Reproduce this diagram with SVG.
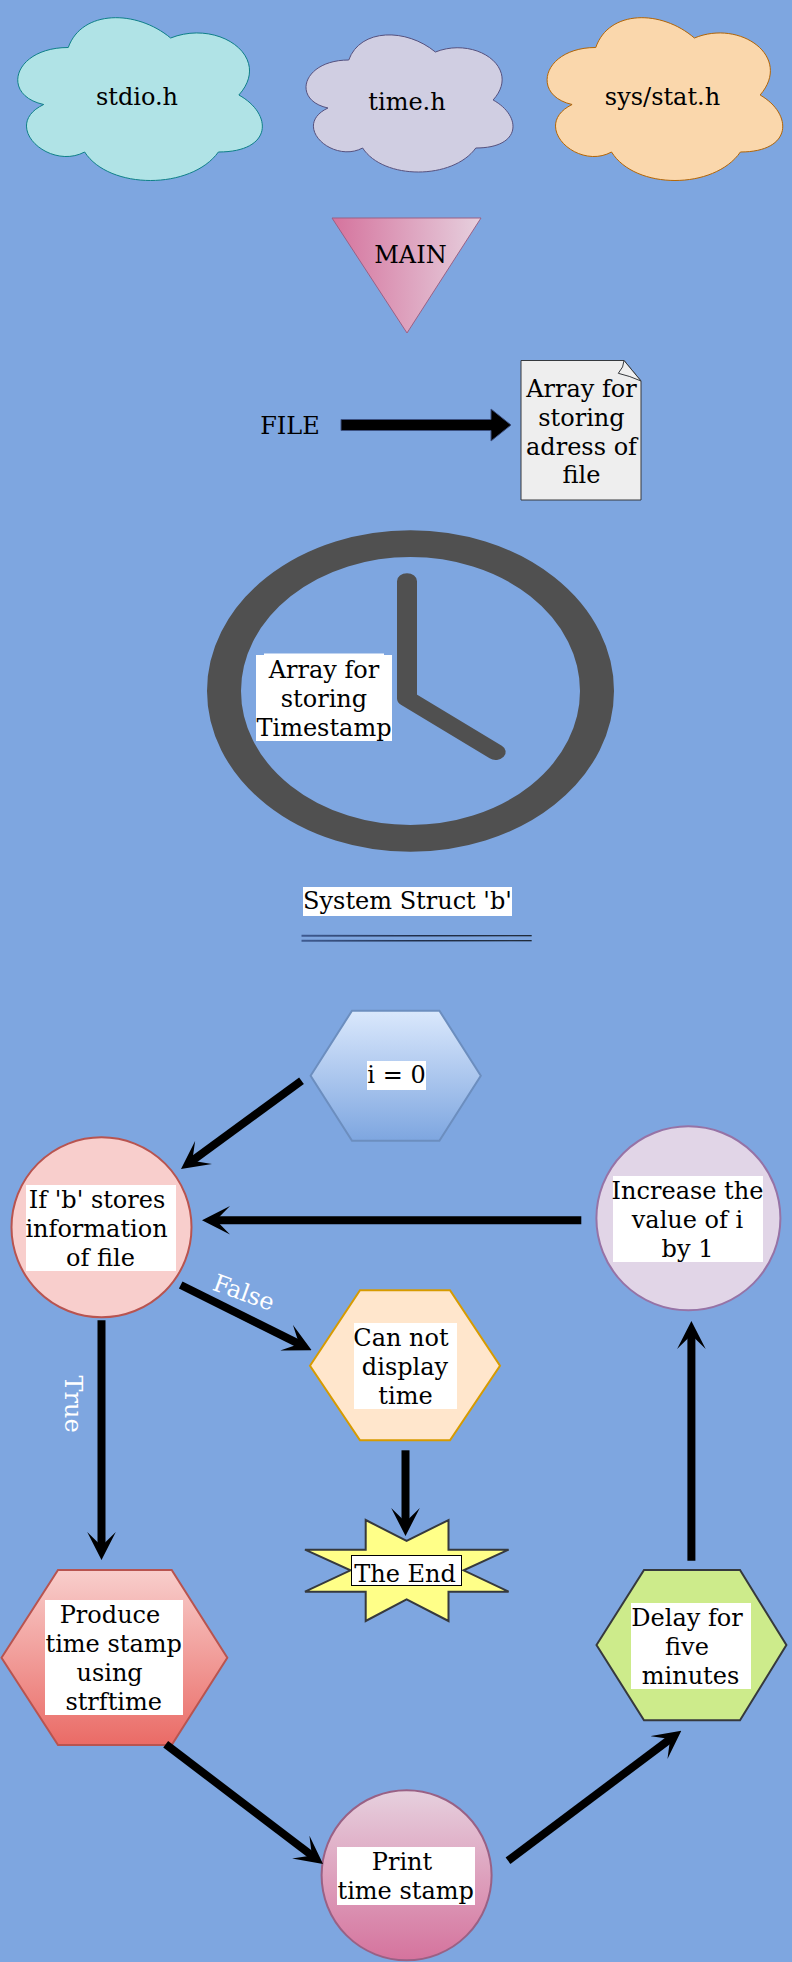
<svg xmlns="http://www.w3.org/2000/svg" width="792" height="1962" viewBox="0 0 792 1962">
<style>
text{font-family:"DejaVu Serif",serif;font-size:24px;fill:#000;text-anchor:middle}
.lbl{fill:#fff}
.bg{fill:#fff}
.conn{fill:none;stroke:#000;stroke-width:8;marker-end:url(#head)}
.s2{stroke-width:2}
</style>
<defs>
<marker id="head" markerUnits="userSpaceOnUse" markerWidth="28" markerHeight="29" viewBox="0 0 28 28.6" refX="15" refY="14.3" orient="auto"><path d="M28 14.3L0 28.6L14 14.3L0 0Z" fill="#000"/></marker>
<linearGradient id="gMain" x1="0" x2="1" y1="0" y2="0"><stop offset="0" stop-color="#d5739d"/><stop offset="1" stop-color="#e6d0de"/></linearGradient>
<linearGradient id="gBlue" x1="0" x2="0" y1="0" y2="1"><stop offset="0" stop-color="#dae8fc"/><stop offset="1" stop-color="#7ea6e0"/></linearGradient>
<linearGradient id="gRed" x1="0" x2="0" y1="0" y2="1"><stop offset="0" stop-color="#f8cecc"/><stop offset="1" stop-color="#ea6b66"/></linearGradient>
<linearGradient id="gPink" x1="0" x2="0" y1="0" y2="1"><stop offset="0" stop-color="#e6d0de"/><stop offset="1" stop-color="#d5739d"/></linearGradient>
<linearGradient id="gRule" x1="0" x2="1" y1="0" y2="0"><stop offset="0" stop-color="#3f5b92"/><stop offset="1" stop-color="#000"/></linearGradient>
<path id="cloud" d="M.25 .25C.05 .25 0 .5 .16 .55C0 .66 .18 .9 .31 .8C.4 1 .7 1 .8 .8C1 .8 1 .6 .875 .5C1 .3 .8 .1 .625 .2C.5 .05 .3 .05 .25 .25Z" vector-effect="non-scaling-stroke"/>
</defs>
<rect id="background" width="792" height="1962" fill="#7ea6e0"/>
<g id="node-stdio"><use href="#cloud" transform="translate(0 0) scale(273 190)" fill="#b0e3e6" stroke="#0e8088"/><text x="137" y="105">stdio.h</text></g>
<g id="node-time"><use href="#cloud" transform="translate(291 20) scale(231 160)" fill="#d0cee2" stroke="#56517e"/><text x="407" y="110">time.h</text></g>
<g id="node-stat"><use href="#cloud" transform="translate(530 0) scale(263 190)" fill="#fad7ac" stroke="#b46504"/><text x="662.5" y="105">sys/stat.h</text></g>
<g id="node-main"><polygon points="332,218 481,218 407,333" fill="url(#gMain)" stroke="#996185"/><text x="410.5" y="263">MAIN</text></g>
<g id="node-file"><text x="290" y="434">FILE</text></g>
<g id="node-file-array"><path d="M521 360.5H624L641 381V500H521Z" fill="#eee" stroke="#36393d"/><path d="M624 360.5Q624 367 618.3 373.3Q630 376 641 381Z" fill="#efefef" stroke="#36393d"/>
<text x="581.5" y="396.5">Array for</text><text x="581.5" y="425.5">storing</text><text x="581.5" y="454.5">adress of</text><text x="581.5" y="483">file</text></g>
<g id="node-clock"><g transform="translate(410.5 691) scale(1 .79)" fill="none" stroke="#505050"><circle r="186.5" stroke-width="34"/><polyline points="-3.5,-139 -3.5,9.4 85.2,77.3" stroke-width="20" stroke-linecap="round" stroke-linejoin="round"/></g>
<rect class="bg" x="256" y="655" width="136" height="86"/><rect class="bg" x="264" y="653.5" width="120" height="2"/>
<text x="324" y="678">Array for</text><text x="324" y="707">storing</text><text x="324" y="736">Timestamp</text></g>
<g id="node-struct"><rect class="bg" x="303" y="887" width="209" height="29"/><text x="407.5" y="909">System Struct 'b'</text>
<path d="M301.5 934.7L531.7 935.2V936.2L301.5 936.7ZM301.5 939.7L531.7 940.2V941.2L301.5 941.7Z" fill="url(#gRule)"/></g>
<g id="node-i"><polygon points="310.6,1075.7 352,1010.7 439.4,1010.7 480.8,1075.7 439.4,1140.7 352,1140.7" fill="url(#gBlue)" stroke="#6c8ebf" class="s2"/><rect class="bg" x="367" y="1061" width="59" height="29"/><text x="396.5" y="1083">i = 0</text></g>
<g id="node-if"><circle cx="101.5" cy="1227.3" r="90" fill="#f8cecc" stroke="#b85450" class="s2"/><rect class="bg" x="26" y="1185" width="150" height="86"/><text x="97" y="1207.5">If 'b' stores</text><text x="96.5" y="1236.5">information</text><text x="100.5" y="1265.5">of file</text></g>
<g id="node-cannot"><polygon points="310,1365.7 360,1290.3 450,1290.3 500,1365.7 450,1440.3 360,1440.3" fill="#ffe6cc" stroke="#d79b00" class="s2"/><rect class="bg" x="354" y="1323" width="103" height="86"/><text x="401" y="1346">Can not</text><text x="405" y="1375">display</text><text x="405.5" y="1404">time</text></g>
<g id="node-increase"><circle cx="688.4" cy="1218.3" r="92" fill="#e1d5e7" stroke="#9673a6" class="s2"/><rect class="bg" x="613" y="1176" width="150" height="86"/><text x="687.5" y="1198.5">Increase the</text><text x="687.5" y="1227.5">value of i</text><text x="687.5" y="1256.5">by 1</text></g>
<g id="node-end"><polygon points="365.7,1520 406.6,1541 448.5,1520 448.5,1549.7 508.6,1549.7 463.6,1570.3 508.6,1591.7 448.5,1591.7 448.5,1621 406.6,1599.3 365.7,1621 365.7,1591.7 305,1591.7 350.5,1570.3 305,1549.7 365.7,1549.7" fill="#ffff88" stroke="#36393d" class="s2"/><rect x="351.5" y="1555.5" width="110" height="30" fill="#fff" stroke="#000"/><text x="405" y="1581.5">The End</text></g>
<g id="node-produce"><polygon points="1.5,1657.7 58,1570 171.7,1570 227.3,1657.7 171.7,1745 58,1745" fill="url(#gRed)" stroke="#b85450" class="s2"/><rect class="bg" x="45" y="1600" width="138" height="115"/><text x="110" y="1622.5">Produce</text><text x="113.7" y="1651.5">time stamp</text><text x="109.6" y="1680.5">using</text><text x="113.7" y="1709.5">strftime</text></g>
<g id="node-delay"><polygon points="596.5,1645 644,1570 740,1570 786.4,1645 740,1720.3 644,1720.3" fill="#cdeb8b" stroke="#36393d" class="s2"/><rect class="bg" x="631" y="1603" width="120" height="86"/><text x="687" y="1626">Delay for</text><text x="687" y="1655">five</text><text x="690.5" y="1684">minutes</text></g>
<g id="node-print"><circle cx="406.6" cy="1875.3" r="85" fill="url(#gPink)" stroke="#996185" class="s2"/><rect class="bg" x="337" y="1847" width="138" height="58"/><text x="402" y="1870">Print</text><text x="405.7" y="1899">time stamp</text></g>
<g id="connectors">
<polygon points="341,419.5 491,419.5 491,409 511,425 491,441 491,430.5 341,430.5" fill="#000" stroke="#3c5080"/>
<path class="conn" d="M301.5 1080.7L191.5 1161.3"/>
<path class="conn" d="M581.3 1220.3H215"/>
<path class="conn" d="M180.7 1285L300 1344.4"/>
<path class="conn" d="M101.5 1320.3V1547"/>
<path class="conn" d="M405.5 1450.3V1523"/>
<path class="conn" d="M691.4 1560.7V1334"/>
<path class="conn" d="M165.7 1744.3L312.7 1856.1"/>
<path class="conn" d="M508 1860.7L670.9 1738.5"/>
<text class="lbl" transform="translate(241 1300.3) rotate(20)">False</text>
<text class="lbl" transform="translate(64.5 1404) rotate(90)">True</text>
</g>
</svg>
